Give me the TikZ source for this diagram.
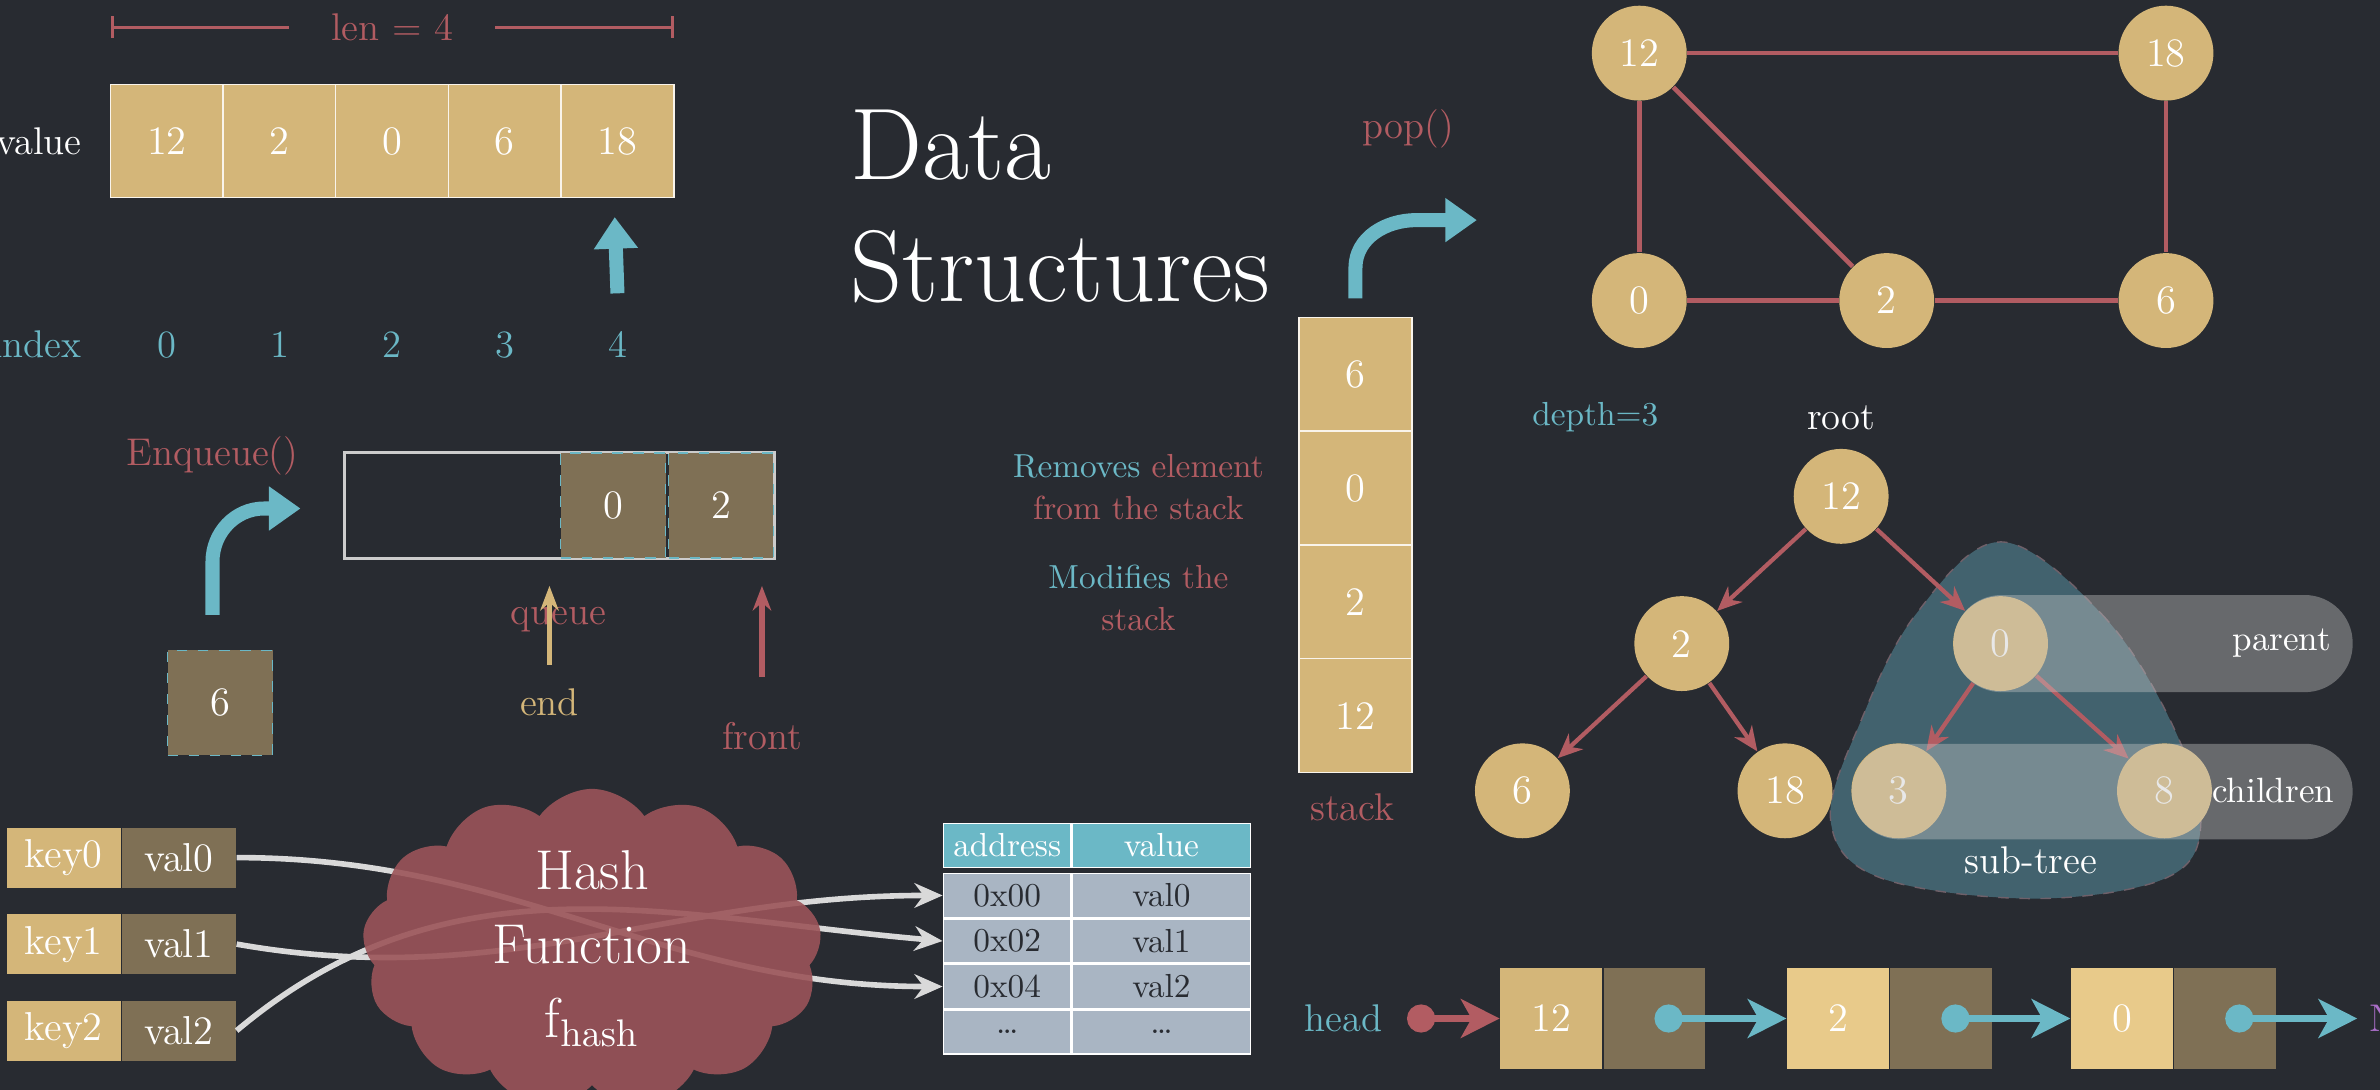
\documentclass[tikz,border=0pt]{standalone}
\usepackage{tikz}
\usetikzlibrary{positioning,calc,shapes.symbols,arrows.meta}
\definecolor{bgc}{RGB}{40,43,49}
\definecolor{gold}{RGB}{212,182,121}
\definecolor{lgold}{RGB}{232,202,138}
\definecolor{olive}{RGB}{127,112,85}
\definecolor{rd}{RGB}{178,92,98}
\definecolor{cloudc}{RGB}{155,84,89}
\definecolor{cy}{RGB}{107,184,198}
\definecolor{tgrey}{RGB}{169,181,195}
\definecolor{teal}{RGB}{66,98,110}
\definecolor{purp}{RGB}{170,110,200}
\tikzset{
  cell/.style={draw=white!85!gold,fill=gold,text=white,minimum width=1.13cm,minimum height=1.13cm,inner sep=0pt,font=\fontsize{11.5}{14}\selectfont},
  qcell/.style={draw=cy,dashed,fill=olive,text=white,minimum width=1.05cm,minimum height=1.05cm,inner sep=0pt,font=\fontsize{11.5}{14}\selectfont},
  scell/.style={draw=white!85!gold,fill=gold,text=white,minimum width=1.13cm,minimum height=1.14cm,inner sep=0pt,font=\fontsize{11.5}{14}\selectfont},
  vx/.style={circle,fill=gold,text=white,minimum size=0.95cm,inner sep=0pt,font=\fontsize{11.5}{14}\selectfont},
  edge/.style={rd,line width=1.3pt},
  tedge/.style={rd,line width=1.2pt,-{Stealth[length=7pt,width=6pt]}},
  bigarrow/.style={cy,line width=4pt,-{Triangle[length=9pt,width=12pt]}},
  kv/.style={fill=#1,text=white,minimum width=1.14cm,minimum height=0.6cm,inner sep=0pt,font=\fontsize{11.5}{14}\selectfont},
  th/.style={fill=cy,text=white,draw=white,minimum width=#1,minimum height=0.44cm,inner sep=0pt,font=\fontsize{9.5}{12}\selectfont},
  td/.style={fill=tgrey,text=bgc,draw=white,minimum width=#1,minimum height=0.44cm,inner sep=0pt,font=\fontsize{9.5}{12}\selectfont},
  hasharrow/.style={white!70!gray,line width=1.6pt,-{Stealth[length=8pt,width=7pt]}},
  pill/.style={fill=white!55!gray,opacity=0.4,rounded corners=0.48cm},
  lbox/.style={fill=#1,text=white,minimum width=1.02cm,minimum height=1.02cm,inner sep=0pt,font=\fontsize{11.5}{14}\selectfont},
  link/.style={cy,line width=2pt,{Circle[length=8pt]}-{Stealth[length=11pt,width=11pt,inset=3pt]}},
  txt/.style={font=\fontsize{11}{13}\selectfont}
}
\begin{document}
\begin{tikzpicture}[x=0.0152cm,y=-0.0152cm]
\fill[bgc] (0,0) rectangle (1568,718);
\useasboundingbox (0,0) rectangle (1568,718);

% array
\draw[rd,line width=0.8pt,|-|] (73,18) -- node[fill=bgc,txt,text=rd,inner xsep=12pt] (len) {len = 4} (444,18);
\foreach \v [count=\i from 0] in {12,2,0,6,18}
  \node[cell] (a\i) at (110+74.2*\i,93) {\v};
\node[txt,text=white,anchor=east] (value) at (62,93) {value};
\foreach \i in {0,...,4}
  \node[txt,text=cy] (i\i) at (110+74.2*\i,227) {\i};
\node[txt,text=cy,anchor=east] (index) at (62,227) {index};
\draw[bigarrow] (i4.north) ++(0,-17) coordinate (ptr) (ptr) -- (405,143);

% title
\node[anchor=north west,text=white,font=\fontsize{29}{35}\selectfont,align=left] (title) at (552,64) {Data\\Structures};

% queue
\draw[white!60!gray,line width=0.8pt] (227,298) rectangle (510,368);
\node[qcell] (q0) at (404,333) {0};
\node[qcell] (q1) at (475,333) {2};
\node[txt,text=rd] (enq) at (140,300) {Enqueue()};
\node[qcell] (new) at (145,463) {6};
\coordinate (enqS) at (140,405);
\coordinate (enqE) at (198,335);
\draw[bigarrow] (enqS) -- ++(0,-35) to[out=90,in=180] ($(enqE)+(-24,0)$) -- (enqE);
\node[txt,text=rd] (queue) at (368,408) {queue};
\node[txt,text=gold] (end) at (362,463) {end};
\node[txt,text=rd] (front) at (502,485) {front};
\draw[gold,line width=1.5pt,-{Stealth[length=7pt]}] (end.north) ++(0,-8) -- (362,386);
\draw[rd,line width=1.5pt,-{Stealth[length=7pt]}] (front.north) ++(0,-22) -- (502,386);

% stack
\foreach \v [count=\i from 0] in {6,0,2,12}
  \node[scell] (s\i) at (893,246.5+75*\i) {\v};
\node[txt,text=rd] (stack) at (891,532) {stack};
\node[txt,text=rd] (pop) at (928,85) {pop()};
\coordinate (popE) at (973,145);
\draw[bigarrow] (s0.north) ++(0,-12) -- ++(0,-20) to[out=90,in=180] ($(popE)+(-40,0)$) -- (popE);
\node[font=\fontsize{9.5}{12}\selectfont,align=center] (rem) at (750,321) {\textcolor{cy}{Removes} \textcolor{rd}{element}\\\textcolor{rd}{from the stack}};
\node[font=\fontsize{9.5}{12}\selectfont,align=center] (mod) at (750,394) {\textcolor{cy}{Modifies} \textcolor{rd}{the}\\\textcolor{rd}{stack}};

% graph
\node[vx] (g12) at (1080,35) {12};
\node[vx] (g18) at (1427,35) {18};
\node[vx] (g0) at (1080,198) {0};
\node[vx] (g2) at (1243,198) {2};
\node[vx] (g6) at (1427,198) {6};
\foreach \a/\b in {g12/g18,g12/g0,g12/g2,g0/g2,g2/g6,g18/g6}
  \draw[edge] (\a) -- (\b);

% tree
\node[font=\fontsize{9.5}{12}\selectfont,text=cy] (depth) at (1051,275) {depth=3};
\node[txt,text=white] (root) at (1213,275) {root};
\fill[teal,draw=rd!40!teal,dashed] plot[smooth cycle,tension=0.6] coordinates {(1318,357) (1385,405) (1430,475) (1450,540) (1428,578) (1340,592) (1238,578) (1206,540) (1226,475) (1262,405)};
\node[vx] (t12) at (1213,327) {12};
\node[vx] (t2) at (1108,424) {2};
\node[vx] (t0) at (1318,424) {0};
\node[vx] (t6) at (1003,521) {6};
\node[vx] (t18) at (1176,521) {18};
\node[vx] (t3) at (1251,521) {3};
\node[vx] (t8) at (1426,521) {8};
\foreach \a/\b in {t12/t2,t12/t0,t2/t6,t2/t18,t0/t3,t0/t8}
  \draw[tedge] (\a) -- (\b);
\fill[pill] (1287,392) rectangle (1550,456);
\fill[pill] (1220,490) rectangle (1550,553);
\node[font=\fontsize{10}{12}\selectfont,text=white,anchor=east] (par) at (1544,424) {parent};
\node[font=\fontsize{10}{12}\selectfont,text=white,anchor=east] (chi) at (1546,521) {children};
\node[txt,text=white] (sub) at (1338,567) {sub-tree};

% linked list
\node[txt,text=cy] (head) at (885,671) {head};
\node[lbox=gold] (l0) at (1022,671) {12};
\node[lbox=olive,right=0pt of l0] (p0) {};
\node[lbox=lgold] (l1) at (1211,671) {2};
\node[lbox=olive,right=0pt of l1] (p1) {};
\node[lbox=lgold] (l2) at (1398,671) {0};
\node[lbox=olive,right=0pt of l2] (p2) {};
\node[txt,text=purp,anchor=west] (null) at (1553,671) {NULL};
\coordinate (hd) at (927,671);
\draw[rd,line width=2pt,{Circle[length=8pt]}-{Stealth[length=11pt,width=11pt,inset=3pt]}] (hd) -- (l0.west);
\draw[link] (p0.center) -- (l1.west);
\draw[link] (p1.center) -- (l2.west);
\draw[link] (p2.center) -- (null.west);

% hash
\foreach \i in {0,1,2} {
  \node[kv=gold] (k\i) at (42,565+57*\i) {key\i};
  \node[kv=olive,right=0pt of k\i] (v\i) {val\i};
}
\node[th=1.28cm,anchor=north west] (hA) at (621,542) {address};
\node[th=1.78cm,right=0pt of hA] (hV) {value};
\foreach \a/\b [count=\r from 1] in {0x00/val0,0x02/val1,0x04/val2,\dots/\dots} {
  \node[td=1.28cm,anchor=north west] (rA\r) at (621,542+3+30*\r) {\a};
  \node[td=1.78cm,right=0pt of rA\r] (rV\r) {\b};
}
\draw[hasharrow] (v0.east) to[out=0,in=180] (rA3.west);
\draw[hasharrow] (v1.east) to[out=-10,in=180] (rA1.west);
\draw[hasharrow] (v2.east) to[out=40,in=175] (rA2.west);
\node[cloud,cloud puffs=13,cloud puff arc=110,aspect=1.5,fill=cloudc,opacity=0.9,minimum width=4.6cm,minimum height=3.2cm] (cl) at (390,625) {};
\node[text=white,align=center,font=\fontsize{16}{21}\selectfont] (hf) at (cl) {Hash\\Function\\f$_{\mathrm{hash}}$};
\end{tikzpicture}
\end{document}
